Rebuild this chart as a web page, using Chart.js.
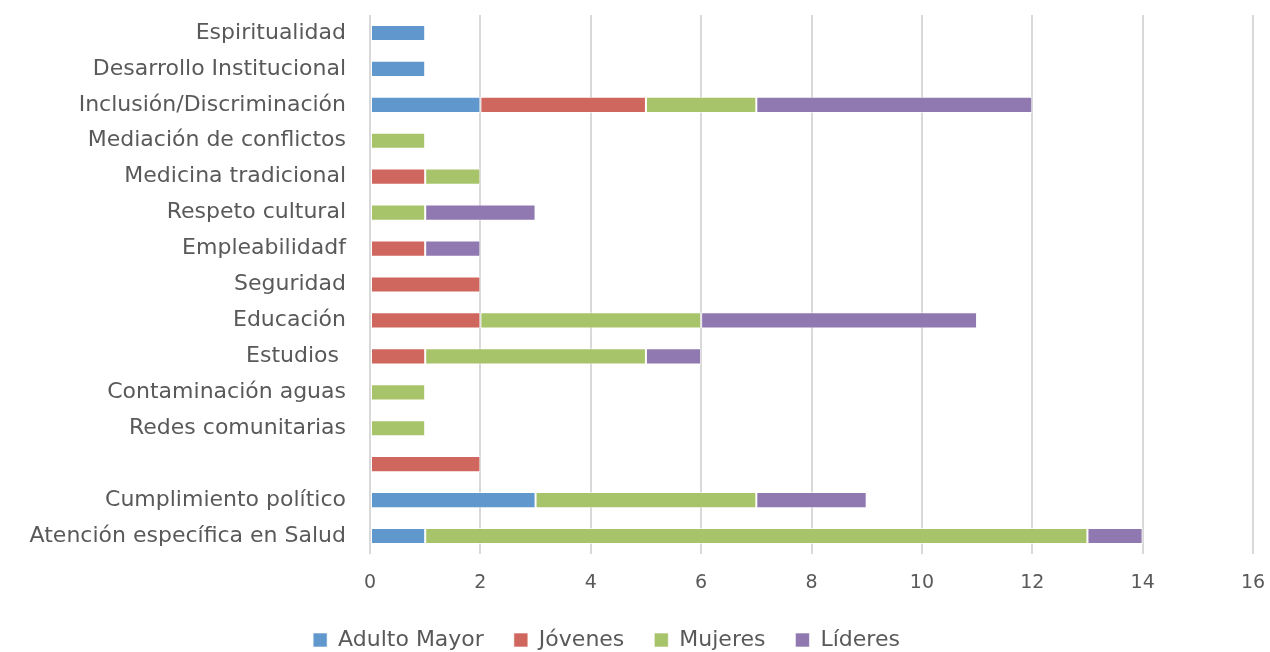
<!DOCTYPE html>
<html>
<head>
<meta charset="utf-8">
<script src="https://cdn.jsdelivr.net/npm/chart.js@4/dist/chart.umd.min.js"></script>
<style>
  html, body { margin: 0; padding: 0; background: #fff; }
  #wrap { width: 1270px; height: 652px; position: relative; }
</style>
</head>
<body>
<div id="wrap"><canvas id="chart"></canvas></div>
<script>
// Categories, top to bottom
const categories = [
    'Espiritualidad',
    'Desarrollo Institucional',
    'Inclusión/Discriminación',
    'Mediación de conflictos',
    'Medicina tradicional',
    'Respeto cultural',
    'Empleabilidadf',
    'Seguridad',
    'Educación',
    'Estudios ',
    'Contaminación aguas',
    'Redes comunitarias',
    '',
    'Cumplimiento político',
    'Atención específica en Salud'
];

const adultoMayor = [1, 1, 2, 0, 0, 0, 0, 0, 0, 0, 0, 0, 0, 3, 1];
const jovenes     = [0, 0, 3, 0, 1, 0, 1, 2, 2, 1, 0, 0, 2, 0, 0];
const mujeres     = [0, 0, 2, 1, 1, 1, 0, 0, 4, 4, 1, 1, 0, 4, 12];
const lideres     = [0, 0, 5, 0, 0, 2, 1, 0, 5, 1, 0, 0, 0, 2, 1];

const xTicks = [0, 2, 4, 6, 8, 10, 12, 14, 16];

const FONT = '"DejaVu Sans", sans-serif';
const TEXT = '#595959';

function series(label, data, color) {
    return {
        label: label,
        data: data,
        backgroundColor: color,
        borderColor: 'rgba(255,255,255,0.6)',
        borderWidth: 1,
        borderSkipped: false,
        categoryPercentage: 0.45,
        barPercentage: 1
    };
}

// drop the label overflow padding so layout.padding decides the plot box
function noPad(axis) {
    axis.paddingTop = 0;
    axis.paddingBottom = 0;
    axis.paddingLeft = 0;
    axis.paddingRight = 0;
}

// legend needs wide gaps between items but sits low and a bit left
const legendMove = {
    id: 'legendMove',
    afterLayout(chart) {
        const lg = chart.legend;
        lg.top += 9;
        lg.bottom += 9;
        lg.left -= 20;
        lg.right -= 20;
    }
};

const ctx = document.getElementById('chart');
const chart = new Chart(ctx, {
    type: 'bar',
    data: {
        labels: categories,
        datasets: [
            series('Adulto Mayor', adultoMayor, '#6097CC'),
            series('Jóvenes', jovenes, '#D0675F'),
            series('Mujeres', mujeres, '#A8C46B'),
            series('Líderes', lideres, '#9079B0')
        ]
    },
    options: {
        indexAxis: 'y',
        responsive: true,
        maintainAspectRatio: false,
        animation: false,
        layout: { padding: { top: 15, right: 17, left: 0, bottom: 0 } },
        scales: {
            x: {
                stacked: true,
                min: 0,
                max: 16,
                border: { display: false },
                grid: { color: '#D9D9D9', lineWidth: 2, drawTicks: false },
                afterBuildTicks: axis => { axis.ticks = xTicks.map(v => ({ value: v })); },
                ticks: { color: TEXT, padding: 18, font: { family: FONT, size: 19 } },
                afterFit: axis => { noPad(axis); axis.height = 36; }
            },
            y: {
                stacked: true,
                border: { display: false },
                grid: { display: false, drawTicks: false },
                ticks: { color: TEXT, padding: 24, autoSkip: false, font: { family: FONT, size: 22 } },
                afterFit: axis => { noPad(axis); axis.width = 370; }
            }
        },
        plugins: {
            legend: {
                position: 'bottom',
                labels: {
                    color: TEXT,
                    boxWidth: 14,
                    boxHeight: 14,
                    padding: 30,
                    font: { family: FONT, size: 22 }
                }
            },
            tooltip: { enabled: false }
        }
    },
    plugins: [legendMove]
});
</script>
</body>
</html>
